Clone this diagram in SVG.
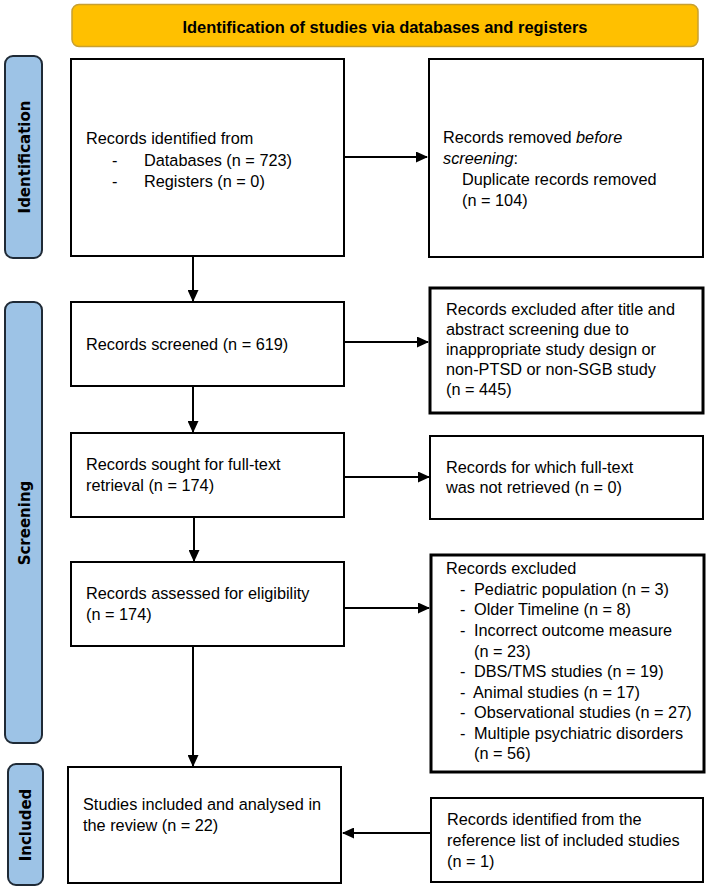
<svg xmlns="http://www.w3.org/2000/svg" width="709" height="890" viewBox="0 0 709 890">
<style>
.box{fill:#fff;stroke:#000;stroke-width:2}
.thick{fill:#fff;stroke:#000;stroke-width:3}
.bar{fill:#9DC3E6;stroke:#1F2A36;stroke-width:2}
.t{font-family:"Liberation Sans",Arial,sans-serif;font-size:16.3px;fill:#000}
.side{font-family:"DejaVu Sans",Verdana,sans-serif;font-weight:bold;font-size:15px;fill:#000}
.hdr{font-family:"Liberation Sans",Arial,sans-serif;font-weight:bold;font-size:17px;fill:#000}
.ln{stroke:#000;stroke-width:2;fill:none}
</style>
<defs>
<marker id="ah" markerWidth="12" markerHeight="11" refX="11" refY="5.5" orient="auto" markerUnits="userSpaceOnUse">
<path d="M0,0 L12,5.5 L0,11 Z" fill="#000"/>
</marker>
</defs>
<rect width="709" height="890" fill="#fff"/>

<g id="header">
<rect x="72" y="4.5" width="626" height="42" rx="7" fill="#FFC000" stroke="#C8A030" stroke-width="1.5"/>
<text class="hdr" x="385" y="33" text-anchor="middle" textLength="405" lengthAdjust="spacingAndGlyphs">Identification of studies via databases and registers</text>
</g>

<g id="bar-identification">
<rect class="bar" x="5" y="56" width="37" height="202" rx="8"/>
<text class="side" transform="translate(29.5,157) rotate(-90)" text-anchor="middle">Identification</text>
</g>
<g id="bar-screening">
<rect class="bar" x="5" y="302" width="37" height="441" rx="8"/>
<text class="side" transform="translate(29.5,523) rotate(-90)" text-anchor="middle">Screening</text>
</g>
<g id="bar-included">
<rect class="bar" x="8" y="764" width="35" height="121" rx="8"/>
<text class="side" transform="translate(31,825) rotate(-90)" text-anchor="middle">Included</text>
</g>

<g id="records-identified">
<rect class="box" x="71" y="59" width="273" height="197"/>
<text class="t" x="86" y="144">Records identified from</text>
<text class="t" x="112" y="166">-</text>
<text class="t" x="144" y="166">Databases (n = 723)</text>
<text class="t" x="112" y="187">-</text>
<text class="t" x="144" y="187">Registers (n = 0)</text>
</g>

<g id="records-removed">
<rect class="box" x="429" y="59" width="274" height="198"/>
<text class="t" x="443" y="143">Records removed <tspan font-style="italic">before</tspan></text>
<text class="t" x="443" y="164"><tspan font-style="italic">screening</tspan>:</text>
<text class="t" x="462" y="185">Duplicate records removed</text>
<text class="t" x="462" y="206">(n = 104)</text>
</g>

<g id="records-screened">
<rect class="box" x="71" y="302" width="273" height="84"/>
<text class="t" x="86" y="350">Records screened (n = 619)</text>
</g>

<g id="records-excluded-title">
<rect class="thick" x="430" y="288" width="273" height="125"/>
<text class="t" x="446" y="315">Records excluded after title and</text>
<text class="t" x="446" y="335">abstract screening due to</text>
<text class="t" x="446" y="355">inappropriate study design or</text>
<text class="t" x="446" y="375">non-PTSD or non-SGB study</text>
<text class="t" x="446" y="395">(n = 445)</text>
</g>

<g id="records-sought">
<rect class="box" x="71" y="433" width="273" height="84"/>
<text class="t" x="86" y="470">Records sought for full-text</text>
<text class="t" x="86" y="491">retrieval (n = 174)</text>
</g>

<g id="records-not-retrieved">
<rect class="box" x="430" y="436" width="273" height="83"/>
<text class="t" x="446" y="473">Records for which full-text</text>
<text class="t" x="446" y="493">was not retrieved (n = 0)</text>
</g>

<g id="records-assessed">
<rect class="box" x="71" y="562" width="273" height="84"/>
<text class="t" x="86" y="599">Records assessed for eligibility</text>
<text class="t" x="86" y="620">(n = 174)</text>
</g>

<g id="records-excluded">
<rect class="thick" x="431" y="555" width="273" height="217"/>
<text class="t" x="446" y="574">Records excluded</text>
<text class="t" x="460" y="595">-</text><text class="t" x="474" y="595">Pediatric population (n = 3)</text>
<text class="t" x="460" y="615">-</text><text class="t" x="474" y="615">Older Timeline (n = 8)</text>
<text class="t" x="460" y="636">-</text><text class="t" x="474" y="636">Incorrect outcome measure</text>
<text class="t" x="474" y="657">(n = 23)</text>
<text class="t" x="460" y="677">-</text><text class="t" x="474" y="677">DBS/TMS studies (n = 19)</text>
<text class="t" x="460" y="698">-</text><text class="t" x="473" y="698">Animal studies (n = 17)</text>
<text class="t" x="460" y="718">-</text><text class="t" x="474" y="718">Observational studies (n = 27)</text>
<text class="t" x="460" y="739">-</text><text class="t" x="474" y="739">Multiple psychiatric disorders</text>
<text class="t" x="474" y="759">(n = 56)</text>
</g>

<g id="studies-included">
<rect class="box" x="68" y="767" width="273" height="116"/>
<text class="t" x="83" y="810">Studies included and analysed in</text>
<text class="t" x="83" y="831">the review (n = 22)</text>
</g>

<g id="records-reference-list">
<rect class="box" x="431" y="798" width="272" height="84"/>
<text class="t" x="447" y="825">Records identified from the</text>
<text class="t" x="447" y="846">reference list of included studies</text>
<text class="t" x="447" y="867">(n = 1)</text>
</g>

<g id="connectors">
<line class="ln" x1="344" y1="157" x2="427" y2="157" marker-end="url(#ah)"/>
<line class="ln" x1="193" y1="256" x2="193" y2="301" marker-end="url(#ah)"/>
<line class="ln" x1="344" y1="342" x2="428" y2="342" marker-end="url(#ah)"/>
<line class="ln" x1="193" y1="386" x2="193" y2="432" marker-end="url(#ah)"/>
<line class="ln" x1="344" y1="477" x2="429" y2="477" marker-end="url(#ah)"/>
<line class="ln" x1="194" y1="517" x2="194" y2="561" marker-end="url(#ah)"/>
<line class="ln" x1="344" y1="608" x2="429" y2="608" marker-end="url(#ah)"/>
<line class="ln" x1="193" y1="646" x2="193" y2="766" marker-end="url(#ah)"/>
<line class="ln" x1="431" y1="833" x2="343" y2="833" marker-end="url(#ah)"/>
</g>
</svg>
